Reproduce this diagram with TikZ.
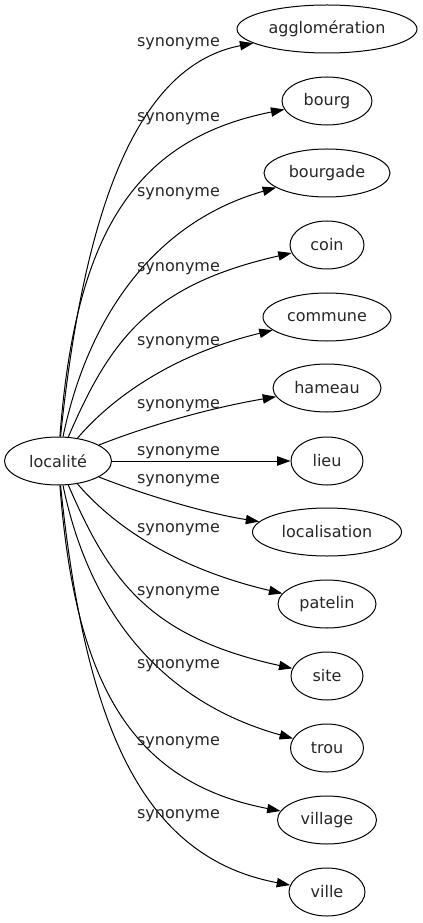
\documentclass[tikz,border=0pt]{standalone}
\usepackage{fontspec}
\setmainfont{DejaVu Sans}
\usetikzlibrary{shapes.geometric,arrows.meta}
\begin{document}
\begin{tikzpicture}[x=0.75pt,y=-0.75pt,
  ell/.style={ellipse,draw,line width=0.75pt,minimum height=36pt,minimum width=#1*0.75pt,inner sep=0pt,font=\fontsize{12}{14}\selectfont,text=black!85},
  syn/.style={draw,line width=0.75pt,-{Triangle[length=10pt,width=7pt]}},
  lab/.style={anchor=base,inner sep=0pt,font=\fontsize{12}{14}\selectfont,text=black!85}]
\useasboundingbox (0,0) rectangle (422,923);
\node[ell=107] (loc) at (58,461) {localité};
\node[ell=180] (n1) at (327,29) {agglomération};
\node[ell=90] (n2) at (327,101) {bourg};
\node[ell=126] (n3) at (327,173) {bourgade};
\node[ell=74] (n4) at (327,245) {coin};
\node[ell=128] (n5) at (327,317) {commune};
\node[ell=108] (n6) at (327,388) {hameau};
\node[ell=72] (n7) at (327,461) {lieu};
\node[ell=149] (n8) at (327,532) {localisation};
\node[ell=98] (n9) at (327,604) {patelin};
\node[ell=72] (n10) at (327,676) {site};
\node[ell=73] (n11) at (327,748) {trou};
\node[ell=99] (n12) at (327,820) {village};
\node[ell=76] (n13) at (327,892) {ville};
\draw[syn] (loc) .. controls (85,200) and (140,65) .. (n1);
\draw[syn] (loc) .. controls (75,240) and (130,140) .. (n2);
\draw[syn] (loc) .. controls (85,330) and (145,225) .. (n3);
\draw[syn] (loc) .. controls (110,340) and (150,285) .. (n4);
\draw[syn] (loc) .. controls (110,400) and (170,355) .. (n5);
\draw[syn] (loc) .. controls (150,425) and (210,408) .. (n6);
\draw[syn] (loc) -- (n7);
\draw[syn] (loc) .. controls (150,497) and (210,514) .. (n8);
\draw[syn] (loc) .. controls (110,522) and (170,567) .. (n9);
\draw[syn] (loc) .. controls (110,582) and (150,637) .. (n10);
\draw[syn] (loc) .. controls (85,592) and (145,697) .. (n11);
\draw[syn] (loc) .. controls (75,682) and (130,782) .. (n12);
\draw[syn] (loc) .. controls (85,722) and (140,857) .. (n13);
\node[lab] (l1) at (178.5,47) {synonyme};
\node[lab] (l2) at (178.5,122) {synonyme};
\node[lab] (l3) at (178.5,197) {synonyme};
\node[lab] (l4) at (178.5,272) {synonyme};
\node[lab] (l5) at (178.5,345) {synonyme};
\node[lab] (l6) at (178.5,408) {synonyme};
\node[lab] (l7) at (178.5,455) {synonyme};
\node[lab] (l8) at (178.5,483) {synonyme};
\node[lab] (l9) at (178.5,532) {synonyme};
\node[lab] (l10) at (178.5,595) {synonyme};
\node[lab] (l11) at (178.5,668) {synonyme};
\node[lab] (l12) at (178.5,745) {synonyme};
\node[lab] (l13) at (178.5,818) {synonyme};
\end{tikzpicture}
\end{document}
